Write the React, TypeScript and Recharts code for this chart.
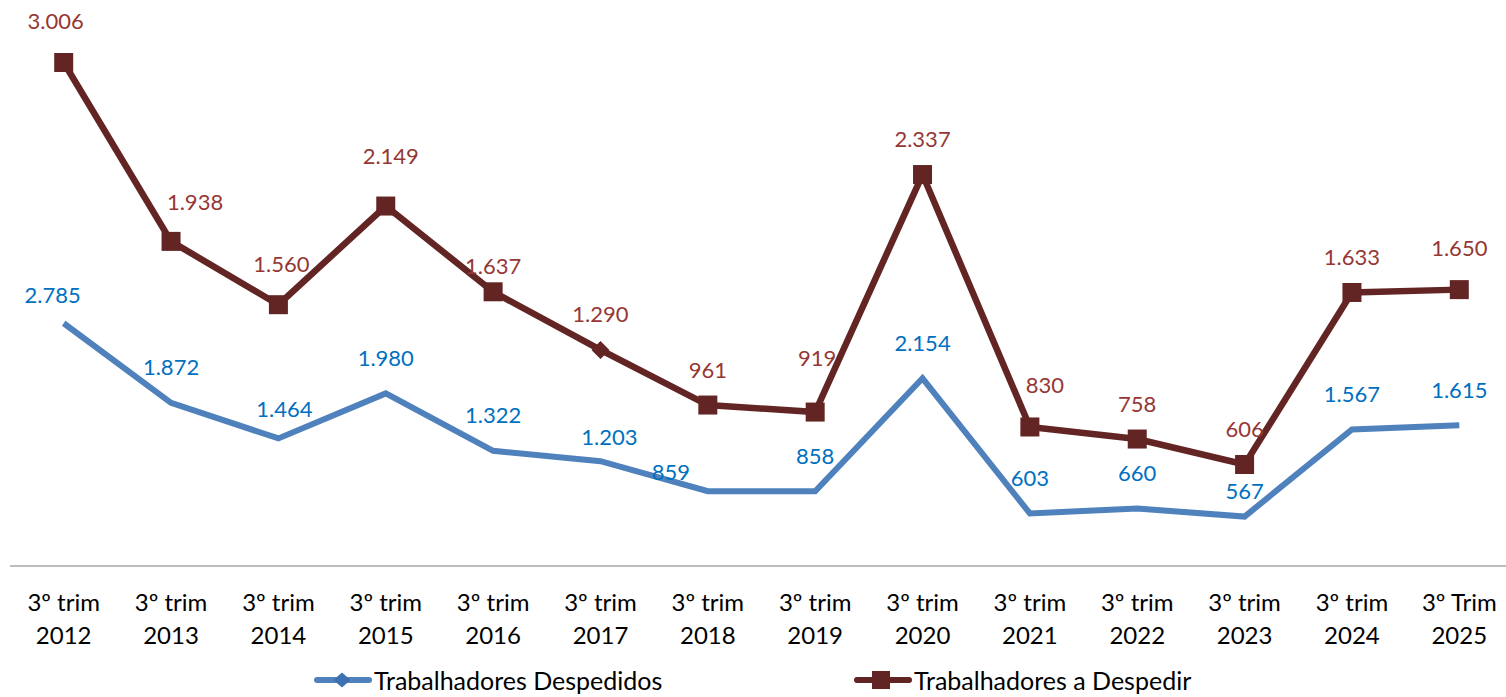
import { LineChart, Line, XAxis, YAxis, LabelList } from "recharts"

const categories = [
  "3º trim 2012",
  "3º trim 2013",
  "3º trim 2014",
  "3º trim 2015",
  "3º trim 2016",
  "3º trim 2017",
  "3º trim 2018",
  "3º trim 2019",
  "3º trim 2020",
  "3º trim 2021",
  "3º trim 2022",
  "3º trim 2023",
  "3º trim 2024",
  "3º Trim 2025",
]
const despedidos = [2785, 1872, 1464, 1980, 1322, 1203, 859, 858, 2154, 603, 660, 567, 1567, 1615]
const aDespedir = [3006, 1938, 1560, 2149, 1637, 1290, 961, 919, 2337, 830, 758, 606, 1633, 1650]

const data = categories.map((cat, i) => ({
  cat,
  despedidos: despedidos[i],
  aDespedir: aDespedir[i],
}))

const FONT = "Lato, 'Open Sans', sans-serif"
const BLUE = "#4f81bd"
const BLUE_TEXT = "#0070c0"
const RED = "#632523"
const RED_TEXT = "#953735"

// labels that were dragged by hand in the original: [dx, dy] by point index
const blueNudge: Record<number, [number, number]> = {
  0: [-11, -29],
  2: [6, -30],
  5: [9, -25],
  6: [-37, -20],
  11: [0, -26],
}
const redNudge: Record<number, [number, number]> = {
  0: [-8, -42],
  1: [24, -40],
  2: [3, -41],
  3: [5, -51],
  4: [0, -26],
  7: [2, -55],
  9: [15, -42],
  13: [0, -42],
}

const fmt = (v: number) => String(v).replace(/\B(?=(\d{3})+(?!\d))/g, ".")

function CatTick({ x, y, payload }: any) {
  const s: string = payload.value
  const cut = s.lastIndexOf(" ")
  return (
    <g>
      <text x={x} y={y + 35} textAnchor="middle" dominantBaseline="central" fontSize={24} fill="#000" fontFamily={FONT}>
        {s.slice(0, cut)}
      </text>
      <text x={x} y={y + 68} textAnchor="middle" dominantBaseline="central" fontSize={24} fill="#000" fontFamily={FONT}>
        {s.slice(cut + 1)}
      </text>
    </g>
  )
}

const valueLabel = (color: string, nudge: Record<number, [number, number]>) => (props: any) => {
  const { x, y, value, index } = props
  const [dx, dy] = nudge[index] ?? [0, -36]
  return (
    <text x={x + dx} y={y + dy} textAnchor="middle" dominantBaseline="central" fontSize={22} fill={color} fontFamily={FONT}>
      {fmt(value)}
    </text>
  )
}

function RedDot({ cx, cy, index }: any) {
  if (cx == null || cy == null) return null
  // the 2017 point carries a diamond in the original
  if (index === 5) {
    const r = 9
    return (
      <polygon
        key={index}
        points={`${cx},${cy - r} ${cx + r},${cy} ${cx},${cy + r} ${cx - r},${cy}`}
        fill={RED}
      />
    )
  }
  return <rect key={index} x={cx - 9.5} y={cy - 9.5} width={19} height={19} fill={RED} />
}

function LegendItem({ color, label, marker }: { color: string; label: string; marker: "diamond" | "square" }) {
  return (
    <span style={{ display: "flex", alignItems: "center", height: 24, whiteSpace: "nowrap" }}>
      <svg width={60} height={24} style={{ display: "block", flex: "none" }}>
        <line x1={4} y1={12} x2={56} y2={12} stroke={color} strokeWidth={6} strokeLinecap="round" />
        {marker === "diamond" ? (
          <polygon points="29,4.5 37.5,12 29,19.5 20.5,12" fill="#3d70b2" />
        ) : (
          <rect x={19} y={3} width={18} height={18} fill={color} />
        )}
      </svg>
      <span style={{ marginLeft: 1, lineHeight: "24px" }}>{label}</span>
    </span>
  )
}

export default function App() {
  return (
    <div style={{ position: "fixed", left: 0, top: 0, width: 1506, height: 697, overflow: "hidden", background: "#fff" }}>
      <LineChart width={1523} height={697} data={data} margin={{ top: 30, right: 10, left: 10, bottom: 0 }}>
        <XAxis
          dataKey="cat"
          interval={0}
          height={131}
          tickLine={false}
          tickSize={0}
          tickMargin={0}
          axisLine={{ stroke: "#a6a6a6", strokeWidth: 1.5 }}
          padding={{ left: 53.7, right: 53.7 }}
          tick={<CatTick />}
        />
        <YAxis yAxisId="left" hide domain={[0, 6150]} />
        <YAxis yAxisId="right" hide orientation="right" domain={[0, 3200]} />
        <Line
          yAxisId="left"
          type="linear"
          dataKey="despedidos"
          stroke={BLUE}
          strokeWidth={6}
          dot={false}
          isAnimationActive={false}
        >
          <LabelList dataKey="despedidos" content={valueLabel(BLUE_TEXT, blueNudge)} />
        </Line>
        <Line
          yAxisId="right"
          type="linear"
          dataKey="aDespedir"
          stroke={RED}
          strokeWidth={6.5}
          dot={<RedDot />}
          isAnimationActive={false}
        >
          <LabelList dataKey="aDespedir" content={valueLabel(RED_TEXT, redNudge)} />
        </Line>
      </LineChart>
      <div style={{ position: "absolute", top: 668, left: 0, width: 1506, fontFamily: FONT, fontSize: 25, color: "#000" }}>
        <span style={{ position: "absolute", left: 313, top: 0 }}>
          <LegendItem color={BLUE} label="Trabalhadores Despedidos" marker="diamond" />
        </span>
        <span style={{ position: "absolute", left: 853, top: 0 }}>
          <LegendItem color={RED} label="Trabalhadores a Despedir" marker="square" />
        </span>
      </div>
    </div>
  )
}
